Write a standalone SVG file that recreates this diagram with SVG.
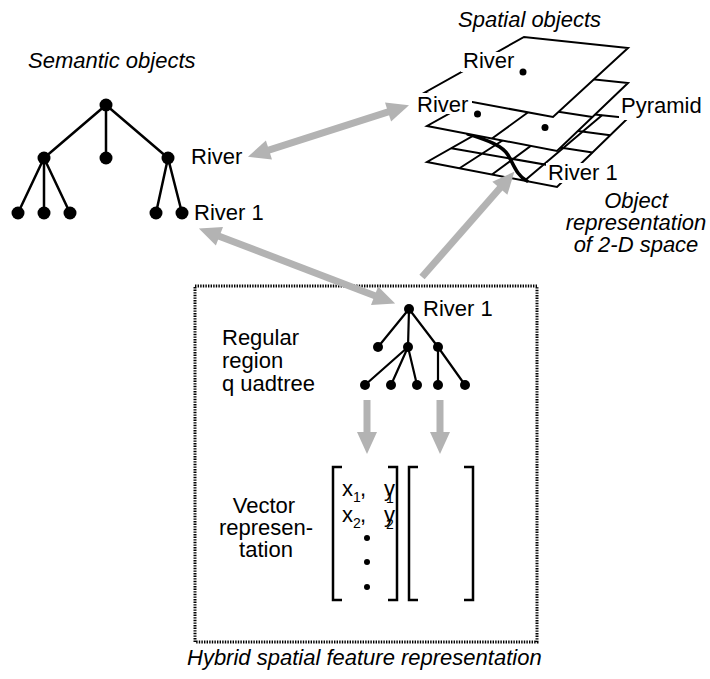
<svg xmlns="http://www.w3.org/2000/svg" width="710" height="679" viewBox="0 0 710 679">
  <style>
    text { font-family: "Liberation Sans", Arial, Helvetica, sans-serif; font-size: 22px; fill: #000; }
    .it { font-style: italic; }
    .sub { font-size: 14px; }
    .edge { stroke: #000; stroke-width: 2.5; fill: none; stroke-linecap: round; }
    .qedge { stroke: #000; stroke-width: 2.2; fill: none; stroke-linecap: round; }
    .plane { fill: #fff; stroke: #000; stroke-width: 2; stroke-linejoin: miter; }
    .grid { stroke: #000; stroke-width: 2; fill: none; }
    .conn { stroke: #b3b3b3; stroke-width: 7; fill: none; }
    .brk { stroke: #000; stroke-width: 2.5; fill: none; }
    .knock { fill: #fff; }
  </style>
  <defs>
    <marker id="head" markerUnits="userSpaceOnUse" markerWidth="24" markerHeight="20" refX="1" refY="10" orient="auto-start-reverse" overflow="visible">
      <path d="M0,0 L22,10 L0,20 z" fill="#b3b3b3"/>
    </marker>
  </defs>

  <!-- Semantic object tree -->
  <g id="semantic-tree">
    <text class="it" x="28" y="68">Semantic objects</text>
    <path class="edge" d="M106,105 L44,158 M106,105 L106,158 M106,105 L168,158 M44,158 L18,213 M44,158 L44,213 M44,158 L70,213 M168,158 L156,213 M168,158 L182,213"/>
    <g fill="#000">
      <circle cx="106" cy="105" r="6.5"/>
      <circle cx="44" cy="158" r="6.5"/>
      <circle cx="106" cy="158" r="6.5"/>
      <circle cx="168" cy="158" r="6.5"/>
      <circle cx="18" cy="213" r="6.5"/>
      <circle cx="44" cy="213" r="6.5"/>
      <circle cx="70" cy="213" r="6.5"/>
      <circle cx="156" cy="213" r="6.5"/>
      <circle cx="182" cy="213" r="6.5"/>
    </g>
    <text x="191" y="164">River</text>
    <text x="194" y="220">River 1</text>
  </g>

  <!-- Spatial object pyramid: three stacked planes, finest at the bottom -->
  <g id="pyramid">
    <text class="it" x="458" y="27">Spatial objects</text>
    <!-- bottom plane, 4x4 cells -->
    <polygon class="plane" points="427,162 557,187 628,118 524,107"/>
    <path class="grid" d="M459.5,168.25 L550,109.75 M492,174.5 L576,112.5 M524.5,180.75 L602,115.25 M451.25,148.25 L574.75,169.75 M475.5,134.5 L592.5,152.5 M499.75,120.75 L610.25,135.25"/>
    <path d="M468,134 C486,140 502,145 508,155 S517,176 527,181" stroke="#000" stroke-width="3.5" fill="none" stroke-linecap="round"/>
    <!-- middle plane, 2x2 cells -->
    <polygon class="plane" points="427,126 557,151 628,83 524,72"/>
    <path class="grid" d="M492,138.5 L576,77.5 M475.5,99 L592.5,117"/>
    <circle cx="545" cy="127.5" r="3.5" fill="#000"/>
    <!-- top plane, single cell -->
    <polygon class="plane" points="424,93 553,117 628,48 524,37"/>
    <circle cx="523" cy="72" r="3.5" fill="#000"/>
    <circle cx="477.5" cy="114" r="3.5" fill="#000"/>
    <!-- labels on white ground -->
    <rect class="knock" x="461" y="52" width="58" height="20"/>
    <text x="463" y="68">River</text>
    <rect class="knock" x="414" y="93" width="58" height="21"/>
    <text x="417" y="112">River</text>
    <rect class="knock" x="619" y="95" width="88" height="25"/>
    <text x="621" y="113">Pyramid</text>
    <rect class="knock" x="546" y="163" width="72" height="20"/>
    <text x="548" y="180">River 1</text>
    <text class="it" text-anchor="middle" x="636" y="208">Object</text>
    <text class="it" text-anchor="middle" x="636" y="230">representation</text>
    <text class="it" text-anchor="middle" x="636" y="252">of 2-D space</text>
  </g>

  <!-- Hybrid representation box -->
  <g id="hybrid">
    <rect x="195" y="286" width="342" height="356" fill="none" stroke="#000" stroke-width="3" stroke-dasharray="1.4 1.2"/>
    <text class="it" x="187" y="665">Hybrid spatial feature representation</text>
  </g>

  <!-- Quadtree -->
  <g id="quadtree">
    <path class="qedge" d="M409,309 L378,347 M409,309 L408,347 M409,309 L438,347 M408,347 L365,385 M408,347 L391,385 M408,347 L417,385 M438,347 L438,385 M438,347 L465,385"/>
    <g fill="#000">
      <circle cx="409" cy="309" r="5"/>
      <circle cx="378" cy="347" r="5"/>
      <circle cx="408" cy="347" r="5"/>
      <circle cx="438" cy="347" r="5"/>
      <circle cx="365" cy="385" r="5"/>
      <circle cx="391" cy="385" r="5"/>
      <circle cx="417" cy="385" r="5"/>
      <circle cx="438" cy="385" r="5"/>
      <circle cx="465" cy="385" r="5"/>
    </g>
    <text x="423" y="316">River 1</text>
    <text x="222" y="345">Regular</text>
    <text x="222" y="368">region</text>
    <text x="222" y="391">q uadtree</text>
  </g>

  <!-- Vector representation -->
  <g id="vector">
    <text text-anchor="middle" x="264" y="513">Vector</text>
    <text text-anchor="middle" x="266" y="535">represen-</text>
    <text text-anchor="middle" x="266" y="557">tation</text>
    <path class="brk" d="M342,467 L333,467 L333,600 L342,600 M388,467 L397,467 L397,600 L388,600"/>
    <path class="brk" d="M418,467 L409,467 L409,600 L418,600 M464,467 L473,467 L473,600 L464,600"/>
    <text x="342" y="496">x</text>
    <text class="sub" x="353" y="502">1</text>
    <text x="360" y="496">,</text>
    <text x="384" y="496">y</text>
    <text class="sub" x="386" y="503">1</text>
    <text x="342" y="522">x</text>
    <text class="sub" x="353" y="528">2</text>
    <text x="360" y="522">,</text>
    <text x="384" y="522">y</text>
    <text class="sub" x="386" y="529">2</text>
    <g fill="#000">
      <circle cx="367" cy="538" r="3"/>
      <circle cx="367" cy="562" r="3"/>
      <circle cx="367" cy="587" r="3"/>
    </g>
  </g>

  <!-- Connectors -->
  <g id="connectors">
    <line class="conn" x1="268" y1="150.3" x2="389" y2="111.7" marker-start="url(#head)" marker-end="url(#head)"/>
    <line class="conn" x1="218.5" y1="235.9" x2="375.5" y2="296.1" marker-start="url(#head)" marker-end="url(#head)"/>
    <line class="conn" x1="422" y1="277" x2="500.5" y2="187.5" marker-end="url(#head)"/>
    <line class="conn" x1="367" y1="400" x2="367" y2="433" marker-end="url(#head)"/>
    <line class="conn" x1="440" y1="400" x2="440" y2="433" marker-end="url(#head)"/>
  </g>
</svg>
